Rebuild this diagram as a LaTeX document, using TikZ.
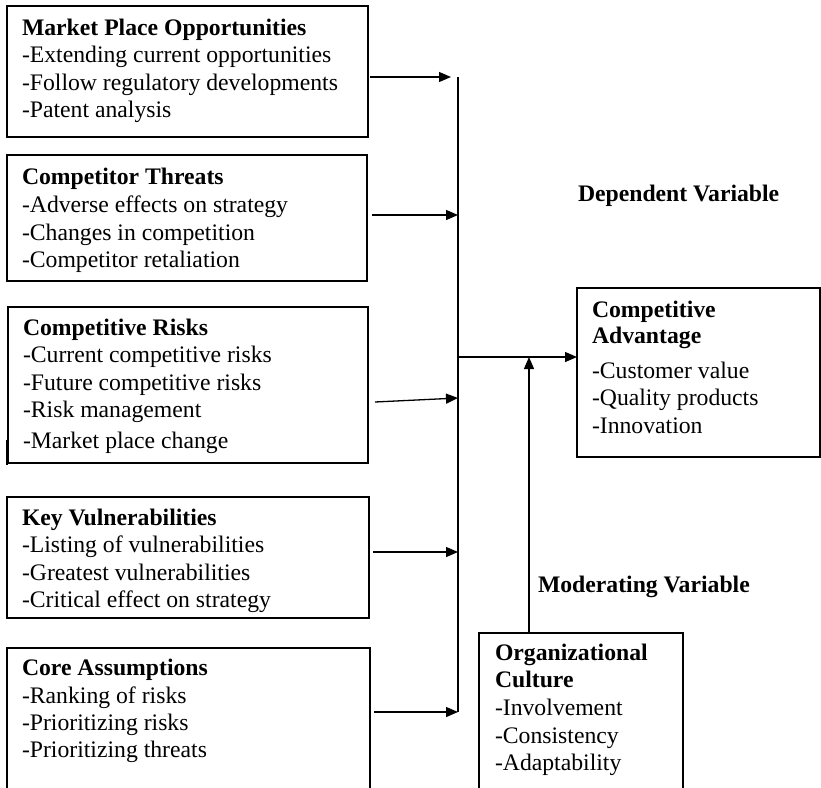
\documentclass[tikz,border=0pt]{standalone}
\usepackage{fontspec}
\setmainfont{Liberation Serif}
\usetikzlibrary{arrows.meta}
\tikzset{
  box/.style={draw, line width=1.3pt, rectangle, inner sep=0pt, outer sep=0pt, anchor=north west},
  txt/.style={anchor=base west, inner sep=0pt, outer sep=0pt, font=\fontsize{23.7}{27}\selectfont},
  hd/.style={txt, font=\fontsize{23.7}{27}\selectfont\bfseries},
  conn/.style={line width=1.3pt},
  arr/.style={line width=1.3pt, -{Triangle[length=12pt,width=10pt]}}
}
\begin{document}
\begin{tikzpicture}[x=1pt,y=-1pt]
\useasboundingbox (0,0) rectangle (821,787);
% boxes
\node[box, minimum width=361, minimum height=131] (b1) at (7,6) {};
\node[box, minimum width=360, minimum height=126] (b2) at (7,155) {};
\node[box, minimum width=360, minimum height=156] (b3) at (8,307) {};
\node[box, minimum width=362, minimum height=121] (b4) at (7,497) {};
\node[box, minimum width=363, minimum height=145] (b5) at (7,648) {};
\node[box, minimum width=243, minimum height=169] (ca) at (577,288) {};
\node[box, minimum width=204, minimum height=160] (oc) at (479,633) {};
% small tick at left of box 3
\coordinate (tk1) at (7,440);
\coordinate (tk2) at (7,465);
\draw[conn] (tk1) -- (tk2);
% texts box 1
\node[hd]  (t1a) at (22,35)  {Market Place Opportunities};
\node[txt] (t1b) at (22,62)  {-Extending current opportunities};
\node[txt] (t1c) at (22,90)  {-Follow regulatory developments};
\node[txt] (t1d) at (22,117) {-Patent analysis};
% box 2
\node[hd]  (t2a) at (22,184) {Competitor Threats};
\node[txt] (t2b) at (22,212) {-Adverse effects on strategy};
\node[txt] (t2c) at (22,240) {-Changes in competition};
\node[txt] (t2d) at (22,267) {-Competitor retaliation};
% box 3
\node[hd]  (t3a) at (23,335) {Competitive Risks};
\node[txt] (t3b) at (23,362) {-Current competitive risks};
\node[txt] (t3c) at (23,390) {-Future competitive risks};
\node[txt] (t3d) at (23,417) {-Risk management};
\node[txt] (t3e) at (23,448) {-Market place change};
% box 4
\node[hd]  (t4a) at (22,525) {Key Vulnerabilities};
\node[txt] (t4b) at (22,552) {-Listing of vulnerabilities};
\node[txt] (t4c) at (22,580) {-Greatest vulnerabilities};
\node[txt] (t4d) at (22,607) {-Critical effect on strategy};
% box 5
\node[hd]  (t5a) at (22,675) {Core Assumptions};
\node[txt] (t5b) at (22,703) {-Ranking of risks};
\node[txt] (t5c) at (22,730) {-Prioritizing risks};
\node[txt] (t5d) at (22,757) {-Prioritizing threats};
% competitive advantage
\node[hd]  (tca) at (592,317) {Competitive};
\node[hd]  (tcb) at (592,343) {Advantage};
\node[txt] (tcc) at (592,378) {-Customer value};
\node[txt] (tcd) at (592,405) {-Quality products};
\node[txt] (tce) at (592,433) {-Innovation};
% organizational culture
\node[hd]  (toa) at (495,660) {Organizational};
\node[hd]  (tob) at (495,687) {Culture};
\node[txt] (toc) at (495,715) {-Involvement};
\node[txt] (tod) at (495,743) {-Consistency};
\node[txt] (toe) at (495,770) {-Adaptability};
% labels
\node[hd] (dv) at (578,201) {Dependent Variable};
\node[hd] (mv) at (538,592) {Moderating Variable};
% bus
\coordinate (bt) at (458,77);
\coordinate (bb) at (458,712);
\coordinate (bj) at (458,357);
\coordinate (a2) at (458,215);
\coordinate (a3) at (458,398);
\coordinate (a4) at (458,552);
\coordinate (om) at (529,357);
\draw[conn] (bt) -- (bb);
% arrows into bus
\coordinate (s1) at (370,77);
\coordinate (e1) at (451,77);
\draw[arr] (s1) -- (e1);
\draw[arr] ([xshift=5pt]b2.east |- a2) -- (a2);
\draw[arr] ([xshift=7pt]b3.east |- 0,402) -- (a3);
\draw[arr] ([xshift=4pt]b4.east |- a4) -- (a4);
\draw[arr] ([xshift=4pt]b5.east |- bb) -- (bb);
% to competitive advantage
\draw[arr] (bj) -- (ca.west |- bj);
% moderating
\draw[arr] (oc.north -| om) -- (om);
\end{tikzpicture}
\end{document}
